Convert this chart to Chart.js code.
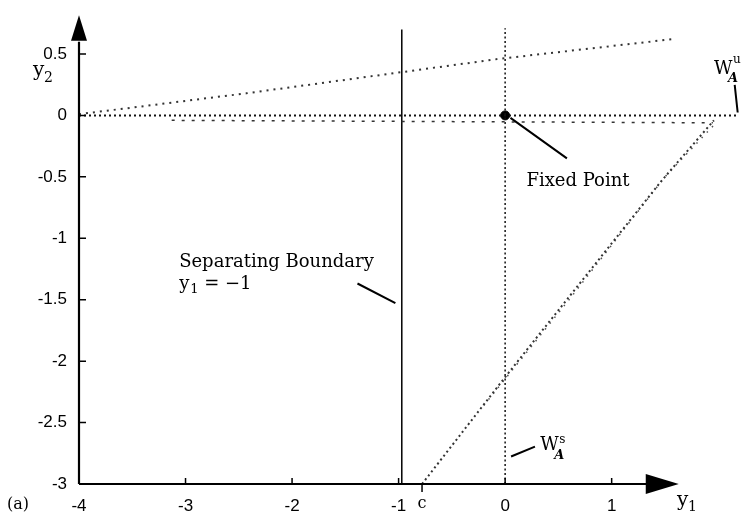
<!DOCTYPE html>
<html lang="en">

<head>
    <meta charset="UTF-8">
    <title>Phase portrait (a)</title>
    <style>
        body { margin: 0; background: #fff; }
    </style>
</head>

<body>
    <div>
        <canvas id="phaseChart" width="745" height="514"></canvas>
    </div>

    <script src="https://cdn.jsdelivr.net/npm/chart.js"></script>
    <script>
        // tick labels
        const xTicks = [-4, -3, -2, -1, 0, 1];
        const yTicks = [-3, -2.5, -2, -1.5, -1, -0.5, 0, 0.5];

        // upper trajectory (rising dotted line)
        const upperX = [-4, -2.43, -0.06, 1.56];
        const upperY = [0.01, 0.18, 0.46, 0.62];

        // unstable manifold along y2 = 0
        const wuX = [-4, 2.17];
        const wuY = [0, 0];

        // sparse dashed line just below zero
        const lowX = [-3.13, 1.95];
        const lowY = [-0.04, -0.06];

        // diagonal trajectory from c up to the right (two close strands)
        const diagX = [-0.78, 0, 1.47, 1.96];
        const diagY = [-3, -2.13, -0.53, -0.04];
        const diag2X = [-0.2, 0.6, 1.5, 1.98];
        const diag2Y = [-2.36, -1.5, -0.5, -0.06];

        // stable manifold x = 0 (dotted vertical)
        const wsX = [0, 0];
        const wsY = [-3, 0.71];

        // separating boundary y1 = -1
        const sepX = [-0.97, -0.97];
        const sepY = [-3, 0.70];

        // fixed point
        const fixedX = [0];
        const fixedY = [0];

        const pts = (xs, ys) => xs.map((v, i) => ({ x: v, y: ys[i] }));

        const tickFont = { family: 'Liberation Sans, Arial, sans-serif', size: 17 };
        const serif = '"DejaVu Serif", "Liberation Serif", serif';

        // annotation lines, in data units
        const leaders = [
            [0.05, -0.02, 0.58, -0.35],      // fixed point
            [-1.386, -1.368, -1.03, -1.528], // separating boundary
            [0.056, -2.776, 0.28, -2.696],   // W s
            [2.155, 0.248, 2.183, 0.024]     // W u
        ];

        const deco = {
            id: 'deco',
            afterDatasetsDraw(chart) {
                const { ctx, scales: { x, y } } = chart;
                const X = v => x.getPixelForValue(v);
                const Y = v => y.getPixelForValue(v);
                ctx.save();
                ctx.strokeStyle = '#000';
                ctx.fillStyle = '#000';

                // axes
                ctx.lineWidth = 2.2;
                ctx.beginPath();
                ctx.moveTo(X(-4), Y(-3));
                ctx.lineTo(X(1.35), Y(-3));
                ctx.moveTo(X(-4), Y(-3));
                ctx.lineTo(X(-4), Y(0.6));
                ctx.stroke();

                // arrow heads
                ctx.beginPath();
                ctx.moveTo(X(1.32), Y(-3) - 10);
                ctx.lineTo(X(1.63), Y(-3));
                ctx.lineTo(X(1.32), Y(-3) + 10);
                ctx.closePath();
                ctx.fill();
                ctx.beginPath();
                ctx.moveTo(X(-4) - 8, Y(0.608));
                ctx.lineTo(X(-4), Y(0.816));
                ctx.lineTo(X(-4) + 8, Y(0.608));
                ctx.closePath();
                ctx.fill();

                // inward tick marks
                ctx.lineWidth = 1.5;
                ctx.beginPath();
                xTicks.forEach(v => {
                    if (v === -4) return;
                    ctx.moveTo(X(v), Y(-3));
                    ctx.lineTo(X(v), Y(-3) - 6);
                });
                yTicks.forEach(v => {
                    if (v === -3) return;
                    ctx.moveTo(X(-4), Y(v));
                    ctx.lineTo(X(-4) + 7, Y(v));
                });
                // small mark at c
                ctx.moveTo(X(-0.78), Y(-3));
                ctx.lineTo(X(-0.78), Y(-3) + 8);
                ctx.stroke();

                // leader lines
                ctx.lineWidth = 2;
                ctx.beginPath();
                leaders.forEach(l => {
                    ctx.moveTo(X(l[0]), Y(l[1]));
                    ctx.lineTo(X(l[2]), Y(l[3]));
                });
                ctx.stroke();

                // labels
                ctx.textBaseline = 'alphabetic';
                ctx.textAlign = 'left';
                ctx.font = '18px ' + serif;
                ctx.fillText('Fixed Point', X(0.2), Y(-0.576));
                ctx.fillText('Separating Boundary', X(-3.06), Y(-1.235));
                ctx.fillText('y', X(-3.06), Y(-1.41));
                ctx.font = '13px ' + serif;
                ctx.fillText('1', X(-3.06) + 11, Y(-1.41) + 4);
                ctx.font = '18px ' + serif;
                ctx.fillText('= \u22121', X(-3.06) + 25, Y(-1.41));

                // W s
                ctx.font = '18px ' + serif;
                ctx.fillText('W', X(0.33), Y(-2.72));
                ctx.font = '12px ' + serif;
                ctx.fillText('s', X(0.33) + 19, Y(-2.67));
                ctx.font = 'italic bold 13px ' + serif;
                ctx.fillText('A', X(0.33) + 14, Y(-2.8));

                // W u
                ctx.font = '18px ' + serif;
                ctx.fillText('W', X(1.96), Y(0.34));
                ctx.font = '12px ' + serif;
                ctx.fillText('u', X(1.96) + 19, Y(0.43));
                ctx.font = 'italic bold 13px ' + serif;
                ctx.fillText('A', X(1.96) + 14, Y(0.27));

                // axis names and other text
                ctx.font = '20px ' + serif;
                ctx.fillText('y', 33, 76);
                ctx.fillText('y', 677, 506);
                ctx.font = '14px ' + serif;
                ctx.fillText('2', 44, 82);
                ctx.fillText('1', 688, 511);
                ctx.font = '16px ' + serif;
                ctx.textAlign = 'center';
                ctx.fillText('c', X(-0.78), 508);
                ctx.textAlign = 'left';
                ctx.fillText('(a)', 7, 509);
                ctx.restore();
            }
        };

        const data = {
            datasets: [
                { data: pts(upperX, upperY), borderColor: '#333', borderWidth: 2, borderDash: [2, 5] },
                { data: pts(wuX, wuY), borderColor: '#111', borderWidth: 2, borderDash: [2, 3] },
                { data: pts(lowX, lowY), borderColor: '#333', borderWidth: 1.5, borderDash: [3, 7] },
                { data: pts(diagX, diagY), borderColor: '#333', borderWidth: 2, borderDash: [2, 3] },
                { data: pts(diag2X, diag2Y), borderColor: '#555', borderWidth: 1.5, borderDash: [1.5, 6] },
                { data: pts(wsX, wsY), borderColor: '#111', borderWidth: 1.5, borderDash: [2, 2.5] },
                { data: pts(sepX, sepY), borderColor: '#000', borderWidth: 1.5 },
                { data: pts(fixedX, fixedY), showLine: false, pointRadius: 4.5, backgroundColor: '#000', borderColor: '#000' }
            ]
        };

        const config = {
            type: 'scatter',
            data: data,
            options: {
                responsive: false,
                animation: false,
                showLine: true,
                elements: { point: { radius: 0 }, line: { tension: 0 } },
                layout: { padding: { top: 6, right: 4, left: 0, bottom: 0 } },
                plugins: { legend: { display: false }, tooltip: { enabled: false } },
                scales: {
                    x: {
                        type: 'linear', min: -4, max: 2.2,
                        grid: { display: false }, border: { display: false },
                        afterBuildTicks: s => { s.ticks = xTicks.map(v => ({ value: v })); },
                        afterFit: s => { s.height = 30; },
                        ticks: { font: tickFont, color: '#000', padding: 4, maxRotation: 0, callback: v => String(v) }
                    },
                    y: {
                        type: 'linear', min: -3, max: 0.824,
                        grid: { display: false }, border: { display: false },
                        afterBuildTicks: s => { s.ticks = yTicks.map(v => ({ value: v })); },
                        afterFit: s => { s.width = 79; },
                        ticks: { font: tickFont, color: '#000', padding: 4, callback: v => String(v) }
                    }
                }
            },
            plugins: [deco]
        };
    </script>
    <script>
        const phaseChart = new Chart(
            document.getElementById('phaseChart'),
            config
        );
    </script>
</body>

</html>
